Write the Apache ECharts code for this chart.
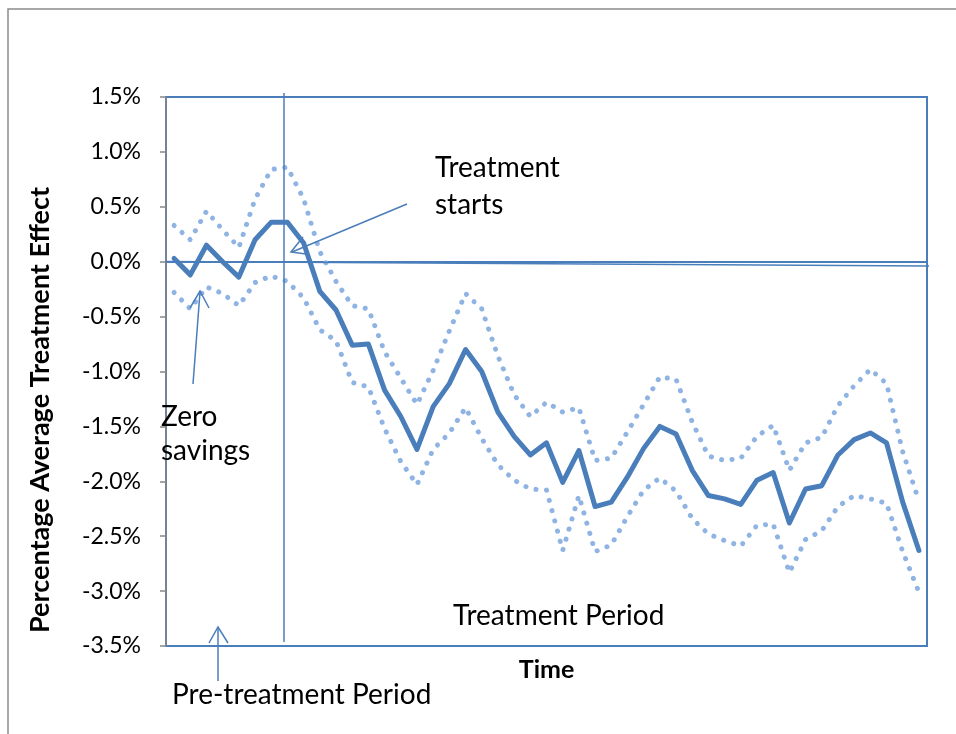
<!DOCTYPE html>
<html>
<head>
<meta charset="utf-8">
<script src="https://cdn.jsdelivr.net/npm/echarts@6/dist/echarts.min.js"></script>
<style>
  html, body { margin: 0; padding: 0; background: #fff; }
  #main { width: 956px; height: 734px; }
</style>
</head>
<body>
<div id="main"></div>
<script>
// periods (47 points, no labels shown on the time axis)
const periods = [];
for (let i = 1; i <= 47; i++) periods.push('t' + i);

// percentage average treatment effect
const effect = [0.03, -0.12, 0.15, 0.0, -0.14, 0.20, 0.36, 0.36, 0.17, -0.27,
  -0.44, -0.76, -0.75, -1.17, -1.41, -1.71, -1.32, -1.11, -0.80, -1.00,
  -1.37, -1.59, -1.76, -1.65, -2.01, -1.72, -2.23, -2.19, -1.96, -1.70,
  -1.50, -1.57, -1.90, -2.13, -2.16, -2.21, -1.99, -1.92, -2.38, -2.07,
  -2.04, -1.76, -1.62, -1.56, -1.65, -2.19, -2.63];
// upper bound
const upperBand = [0.33, 0.20, 0.46, 0.29, 0.13, 0.57, 0.84, 0.86, 0.57, 0.09,
  -0.18, -0.40, -0.43, -0.82, -1.06, -1.30, -0.99, -0.63, -0.29, -0.43,
  -0.86, -1.21, -1.41, -1.28, -1.37, -1.33, -1.81, -1.79, -1.55, -1.30,
  -1.05, -1.07, -1.46, -1.77, -1.81, -1.79, -1.59, -1.49, -1.90, -1.65,
  -1.60, -1.31, -1.13, -0.98, -1.11, -1.73, -2.18];
// lower bound
const lowerBand = [-0.28, -0.43, -0.23, -0.29, -0.40, -0.19, -0.13, -0.18, -0.33, -0.62,
  -0.72, -1.10, -1.14, -1.52, -1.82, -2.03, -1.71, -1.56, -1.33, -1.61,
  -1.85, -1.99, -2.07, -2.08, -2.63, -2.13, -2.64, -2.58, -2.32, -2.08,
  -1.97, -2.09, -2.34, -2.48, -2.54, -2.59, -2.40, -2.39, -2.83, -2.53,
  -2.45, -2.23, -2.13, -2.16, -2.20, -2.64, -3.01];

const yMin = -3.5, yMax = 1.5, yStep = 0.5;

const FONT = 'Lato, "Open Sans", sans-serif';
const BLUE = '#4a7ebb';
const LIGHT = '#8fb4e3';

const chart = echarts.init(document.getElementById('main'), null, { renderer: 'canvas' });

// dotted band line style
const dotStyle = { color: LIGHT, width: 5, type: [0.1, 10.5], cap: 'round', join: 'round' };

const txt = (text, x, y, extra) => ({
  type: 'text', z: 100,
  style: Object.assign({ text, x, y, font: '28px ' + FONT, fill: '#000', verticalAlign: 'middle' }, extra || {}),
});
const seg = (pts) => ({
  type: 'polyline', z: 100,
  shape: { points: pts },
  style: { stroke: BLUE, lineWidth: 1.5, fill: null },
});

const option = {
  animation: false,
  backgroundColor: '#fff',
  grid: {
    left: 166, right: 29, top: 97, bottom: 88,
    show: true, borderColor: BLUE, borderWidth: 2,
  },
  xAxis: {
    type: 'category',
    data: periods,
    boundaryGap: true,
    name: 'Time',
    nameLocation: 'middle',
    nameGap: 11,
    nameTextStyle: { fontFamily: FONT, fontSize: 25, fontWeight: 'bold', color: '#000' },
    axisLine: { lineStyle: { color: BLUE, width: 2 } },
    axisTick: { show: false },
    axisLabel: { show: false },
    splitLine: { show: false },
  },
  yAxis: {
    type: 'value',
    min: yMin, max: yMax, interval: yStep,
    axisLine: { show: true, lineStyle: { color: '#868686', width: 1.5 } },
    axisTick: { show: true, inside: false, length: 6, lineStyle: { color: '#868686', width: 1.5 } },
    axisLabel: {
      margin: 25, color: '#000', fontFamily: FONT, fontSize: 23,
      formatter: v => v.toFixed(1) + '%',
    },
    splitLine: { show: false },
  },
  series: [
    { name: 'upper', type: 'line', data: upperBand, symbol: 'none', lineStyle: dotStyle, z: 2 },
    { name: 'lower', type: 'line', data: lowerBand, symbol: 'none', lineStyle: dotStyle, z: 2 },
    {
      name: 'effect', type: 'line', data: effect, symbol: 'none', z: 3,
      lineStyle: { color: BLUE, width: 5, join: 'round', cap: 'round' },
    },
  ],
  graphic: [
    // outer frame
    { type: 'rect', z: 0, shape: { x: 8, y: 9, width: 980, height: 760 },
      style: { stroke: '#8c8c8c', lineWidth: 1.5, fill: null } },
    // y axis title (sits a bit below the plot centre, as in the original)
    { type: 'text', z: 100, x: 40, y: 410, rotation: Math.PI / 2,
      style: { text: 'Percentage Average Treatment Effect', font: 'bold 27px ' + FONT,
        fill: '#000', align: 'center', verticalAlign: 'middle' } },
    // zero line (slightly tilted, hand drawn)
    seg([[166, 261.5], [929, 266]]),
    // treatment start
    seg([[284, 93], [284, 642]]),
    // arrow -> treatment starts
    seg([[407, 204], [292, 252]]),
    seg([[303, 237], [291, 252], [306, 254]]),
    // arrow -> zero savings
    seg([[193, 384], [200, 292]]),
    seg([[190, 308], [200, 291], [209, 308]]),
    // arrow -> pre-treatment period
    seg([[218, 681], [218, 628]]),
    seg([[209, 643], [218, 627], [228, 643]]),
    txt('Treatment', 435, 168),
    txt('starts', 435, 205),
    txt('Zero', 161, 417),
    txt('savings', 161, 451),
    txt('Treatment Period', 453, 616),
    txt('Pre-treatment Period', 172, 695),
  ],
};

chart.setOption(option);
</script>
</body>
</html>
